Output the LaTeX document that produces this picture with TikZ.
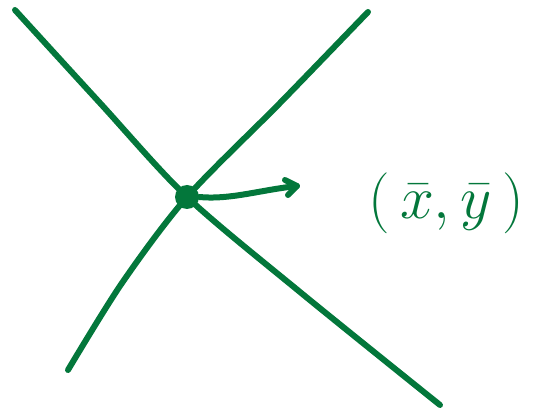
\documentclass[tikz,border=0pt]{standalone}
\usetikzlibrary{arrows.meta}
\definecolor{pen}{HTML}{03773B}
\begin{document}
\begin{tikzpicture}[x=1pt,y=-1pt,
  stroke/.style={draw=pen,line width=6pt,line cap=round,line join=round},
  lbl/.style={text=pen,font=\Huge,scale=2.45}]
\useasboundingbox (0,0) rectangle (538,411);
\draw[stroke] plot[smooth,tension=0.5] coordinates {(15,10) (100,103) (187,197) (300,292) (440,405)};
\draw[stroke] plot[smooth,tension=0.5] coordinates {(368,12) (280,103) (187,197) (122,283) (68,370)};
\node[circle,fill=pen,minimum size=24pt,inner sep=0pt] (c) at (187,197) {};
\coordinate (tip) at (297,186);
\draw[stroke] (c.east) .. controls (230,200) and (260,190) .. (tip);
\draw[stroke] (285,180) -- (tip) -- (288,195);
\node[lbl] (p) at (446,203) {$(\,\bar{x},\bar{y}\,)$};
\end{tikzpicture}
\end{document}
